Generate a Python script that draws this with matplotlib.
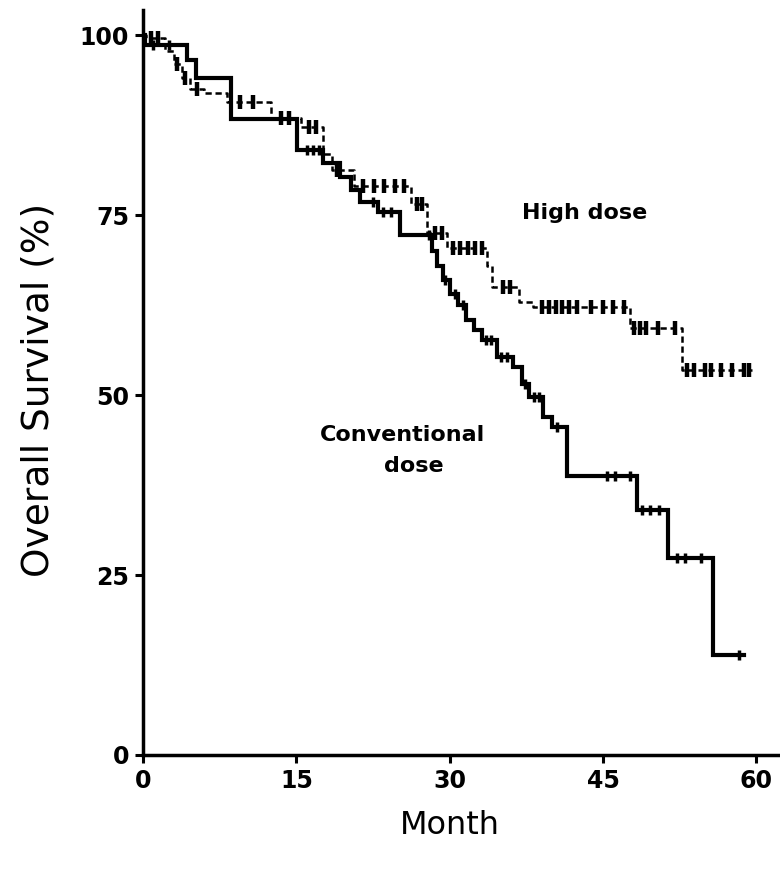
#!/usr/bin/env python3
"""
plot.py - Kaplan-Meier overall survival, high dose vs conventional dose

Output: out.png
"""

import matplotlib
matplotlib.use("Agg")
import matplotlib.pyplot as plt

# ============================================================
# Data
# ============================================================
# Conventional dose: step times (months) and survival (%) after each step
conv_t = [0, 0.2, 4.3, 5.2, 8.6, 15.1, 17.6, 19.3, 20.3, 21.2, 23.0,
          25.1, 28.3, 28.8, 29.3, 30.0, 30.8, 31.6, 32.4, 33.2, 34.6, 36.2,
          37.1, 37.8, 39.1, 40.0, 41.5, 48.3, 51.3, 55.7, 58.8]
conv_s = [100, 98.6, 96.5, 94.0, 88.4, 84.0, 82.3, 80.3, 78.5, 76.8, 75.5,
          72.3, 70.0, 68.0, 66.0, 64.0, 62.5, 60.5, 59.0, 57.6, 55.3, 53.9,
          51.5, 49.7, 47.0, 45.5, 38.8, 34.0, 27.3, 13.9, 13.9]

# Conventional dose: censored patients
conv_cens_t = [1.0, 2.5, 16.0, 16.6, 17.2, 22.5, 23.5, 24.3, 28.0, 29.5, 30.5,
               31.3, 33.5, 34.0, 35.0, 35.6, 37.4, 38.2, 38.7, 40.5, 45.4, 46.2,
               47.6, 48.8, 49.6, 50.5, 52.2, 53.0, 54.6, 58.3]
conv_cens_s = [98.6, 98.6, 84.0, 84.0, 84.0, 76.8, 75.5, 75.5, 72.3, 66.0, 64.0,
               62.5, 57.6, 57.6, 55.3, 55.3, 51.5, 49.7, 49.7, 45.5, 38.8, 38.8,
               38.8, 34.0, 34.0, 34.0, 27.3, 27.3, 27.3, 13.9]

# High dose: step times (months) and survival (%)
hd_t = [0, 0.3, 2.2, 3.0, 3.8, 4.6, 6.0, 8.2, 12.5, 15.5, 17.6, 18.5, 20.6,
        26.2, 27.8, 29.7, 33.6, 34.1, 36.8, 38.1, 47.6, 52.7, 59.6]
hd_s = [100, 99.6, 97.8, 96.0, 94.0, 92.5, 92.0, 90.7, 88.5, 87.2, 83.5, 81.3,
        79.0, 76.5, 72.5, 70.5, 68.0, 65.0, 63.0, 62.3, 59.3, 53.5, 53.5]

# High dose: censored patients
hd_cens_t = [0.8, 1.5, 3.3, 4.1, 5.3, 9.5, 10.8, 13.5, 14.3, 16.2, 16.9, 19.0,
             21.5, 22.6, 23.6, 24.6, 25.5, 26.8, 27.3, 28.6, 29.2, 30.3, 31.0,
             31.8, 32.5, 33.2, 35.2, 35.9, 39.0, 39.7, 40.4, 41.0, 41.7, 42.4,
             43.8, 45.0, 46.0, 47.0, 48.0, 48.6, 49.2, 50.4, 52.0, 53.2, 53.9,
             55.0, 55.6, 56.5, 57.6, 58.8, 59.3]
hd_cens_s = [99.6, 99.6, 96.0, 94.0, 92.5, 90.7, 90.7, 88.5, 88.5, 87.2, 87.2, 81.3,
             79.0, 79.0, 79.0, 79.0, 79.0, 76.5, 76.5, 72.5, 72.5, 70.5, 70.5,
             70.5, 70.5, 70.5, 65.0, 65.0, 62.3, 62.3, 62.3, 62.3, 62.3, 62.3,
             62.3, 62.3, 62.3, 62.3, 59.3, 59.3, 59.3, 59.3, 59.3, 53.5, 53.5,
             53.5, 53.5, 53.5, 53.5, 53.5, 53.5]

x_ticks = [0, 15, 30, 45, 60]
y_ticks = [0, 25, 50, 75, 100]

# ============================================================
# Figure
# ============================================================
fig = plt.figure(figsize=(7.8, 8.69), dpi=100)
ax = fig.add_axes([0.1833, 0.1312, 0.8167, 0.8573])

ax.step(conv_t, conv_s, where="post", color="black", linewidth=3.0,
        solid_joinstyle="miter")
ax.plot(conv_cens_t, conv_cens_s, "|", color="black", markersize=7,
        markeredgewidth=2.5)

# high dose line is drawn fine and broken in the original
ax.step(hd_t, hd_s, where="post", color="black", linewidth=1.8,
        linestyle=(0, (2.5, 1.5)))
ax.plot(hd_cens_t, hd_cens_s, "|", color="black", markersize=10,
        markeredgewidth=3.2)

ax.text(43.2, 75.3, "High dose", fontsize=16, fontweight="bold",
        ha="center", va="center")
ax.text(25.4, 44.4, "Conventional", fontsize=16, fontweight="bold",
        ha="center", va="center")
ax.text(26.5, 40.2, "dose", fontsize=16, fontweight="bold",
        ha="center", va="center")

ax.set_xlim(0, 62.3)
ax.set_ylim(0, 103.5)
ax.set_xticks(x_ticks)
ax.set_yticks(y_ticks)
ax.tick_params(axis="both", direction="out", length=6, width=2.2,
               labelsize=17, pad=4)
for lbl in ax.get_xticklabels() + ax.get_yticklabels():
    lbl.set_fontweight("bold")

for side in ["top", "right"]:
    ax.spines[side].set_visible(False)
for side in ["left", "bottom"]:
    ax.spines[side].set_linewidth(2.5)

ax.set_xlabel("Month", fontsize=23)
ax.set_ylabel("Overall Survival (%)", fontsize=27)
ax.xaxis.set_label_coords(0.482, -0.074)
ax.yaxis.set_label_coords(-0.135, 0.49)

fig.savefig("out.png", dpi=100)
